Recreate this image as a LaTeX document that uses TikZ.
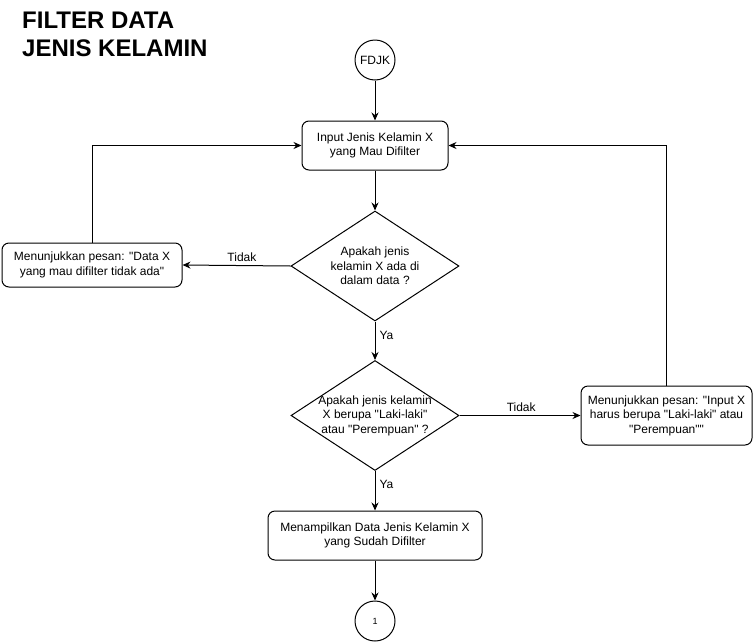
\documentclass[tikz,border=0pt]{standalone}
\usepackage{fontspec}
\setmainfont{Liberation Sans}
\usetikzlibrary{shapes.geometric,arrows.meta}
\begin{document}
\begin{tikzpicture}[x=1pt,y=-1pt,
  every node/.style={font=\fontsize{12}{14.5}\selectfont},
  proc/.style={draw,rounded corners=7pt,line width=1pt,align=center,inner sep=0pt},
  conn/.style={draw,circle,line width=1pt,minimum size=40pt,inner sep=0pt},
  dec/.style={draw,diamond,line width=1pt,inner sep=0pt,minimum width=168pt,minimum height=110pt},
  arr/.style={line width=1pt,-{Stealth[length=8pt,width=7pt]}},
  lbl/.style={font=\fontsize{12}{13}\selectfont,inner sep=1pt}]
\useasboundingbox (0,0) rectangle (754,643);
\node[anchor=north west,align=left,inner sep=0pt,font=\fontsize{24}{28}\selectfont\bfseries] (title) at (22,12) {FILTER DATA\\JENIS KELAMIN};
\node[conn] (fdjk) at (375,60) {FDJK};
\node[proc,minimum width=146pt,minimum height=49pt] (input) at (375,145.5) {Input Jenis Kelamin X\\yang Mau Difilter};
\node[dec,label={[align=center,font=\fontsize{12}{14.5}\selectfont]center:Apakah jenis\\kelamin X ada di\\dalam data ?}] (d1) at (375,266) {};
\node[proc,minimum width=180pt,minimum height=44pt] (left) at (92,265) {Menunjukkan pesan: \textquotedbl Data X\\yang mau difilter tidak ada\textquotedbl};
\node[dec,label={[align=center,font=\fontsize{12}{14.5}\selectfont]center:Apakah jenis kelamin\\X berupa \textquotedbl Laki-laki\textquotedbl\\atau \textquotedbl Perempuan\textquotedbl\ ?}] (d2) at (375,415.5) {};
\node[proc,minimum width=171pt,minimum height=59pt] (right) at (666.5,415.5) {Menunjukkan pesan: \textquotedbl Input X\\harus berupa \textquotedbl Laki-laki\textquotedbl\ atau\\\textquotedbl Perempuan\textquotedbl\textquotedbl};
\node[proc,minimum width=214pt,minimum height=49pt] (out) at (375,535.5) {Menampilkan Data Jenis Kelamin X\\yang Sudah Difilter};
\node[conn,font=\fontsize{9}{11}\selectfont] (one) at (375,621) {1};
\draw[arr] (fdjk) -- (input);
\draw[arr] (input) -- (d1);
\draw[arr] (d1.west) -- node[lbl,above,pos=0.45,yshift=2pt] (t1) {Tidak} (left.east);
\draw[arr] (d1.south) -- node[lbl,right,pos=0.35,xshift=3pt] (y1) {Ya} (d2.north);
\draw[arr] (left.north) |- (input.west);
\draw[arr] (d2.east) -- node[lbl,above,pos=0.51,yshift=2pt] (t2) {Tidak} (right.west);
\draw[arr] (right.north) |- (input.east);
\draw[arr] (d2.south) -- node[lbl,right,pos=0.35,xshift=3pt] (y2) {Ya} (out.north);
\draw[arr] (out) -- (one);
\end{tikzpicture}
\end{document}
